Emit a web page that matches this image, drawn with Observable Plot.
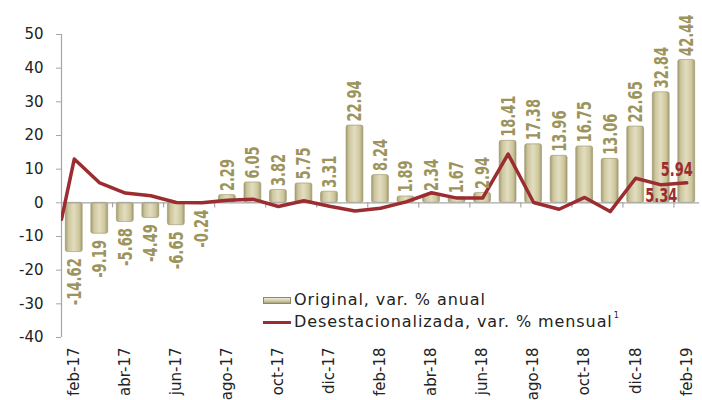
<!DOCTYPE html>
<html>
<head>
<meta charset="utf-8">
<script src="https://cdn.jsdelivr.net/npm/d3@7"></script>
<script src="https://cdn.jsdelivr.net/npm/@observablehq/plot@0.6"></script>
<style>
  html, body { margin: 0; padding: 0; background: #fff; }
  #wrap { position: relative; width: 702px; height: 400px; overflow: hidden; }
  #legend { position: absolute; left: 263px; top: 289px; font-family: "DejaVu Sans", sans-serif; font-size: 16px; letter-spacing: 0.9px; color: #222; line-height: 22px; }
  #legend .row { display: flex; align-items: center; white-space: nowrap; }
  #legend .sw { width: 28px; height: 7px; margin-right: 3px; box-sizing: border-box; }
  #legend .bar { background: linear-gradient(to bottom, #efeadb, #cfc8a0 60%, #a9a27c); border: 0.5px solid #8f8860; }
  #legend .ln { height: 3px; background: #9b2d30; }
  #legend sup { font-size: 8px; position: relative; top: -6px; vertical-align: baseline; margin-left: 1px; }
</style>
</head>
<body>
<div id="wrap">
  <div id="chart"></div>
  <div id="legend">
    <div class="row"><div class="sw bar"></div>Original, var. % anual</div>
    <div class="row"><div class="sw ln"></div>Desestacionalizada, var. % mensual<sup>1</sup></div>
  </div>
</div>
<script>
// Months (feb-17 .. feb-19)
const months = ["feb-17","mar-17","abr-17","may-17","jun-17","jul-17","ago-17","sep-17","oct-17","nov-17","dic-17","ene-18",
                "feb-18","mar-18","abr-18","may-18","jun-18","jul-18","ago-18","sep-18","oct-18","nov-18","dic-18","ene-19","feb-19"];
// Original, var. % anual (bars)
const original = [-14.62,-9.19,-5.68,-4.49,-6.65,-0.24,2.29,6.05,3.82,5.75,3.31,22.94,
                  8.24,1.89,2.34,1.67,2.94,18.41,17.38,13.96,16.75,13.06,22.65,32.84,42.44];
// Desestacionalizada, var. % mensual (line)
const lineStart = -4.9; // value where the line enters the plot at its left edge
const desest = [13.0,5.9,2.9,2.1,0.1,0.0,0.8,1.1,-1.1,0.6,-1.0,-2.4,
                -1.6,0.3,3.0,1.4,1.4,14.5,0.1,-1.9,1.6,-2.6,7.3,5.34,5.94];
// Labeled line points
const lineLabels = [{month: "ene-19", value: 5.34, pos: "below"}, {month: "feb-19", value: 5.94, pos: "above"}];
// Axis ticks
const yTicks = [-40,-30,-20,-10,0,10,20,30,40,50];
const xTickLabels = ["feb-17","abr-17","jun-17","ago-17","oct-17","dic-17","feb-18","abr-18","jun-18","ago-18","oct-18","dic-18","feb-19"];

const bars = months.map((m, i) => ({i, month: m, value: original[i]}));
const line = [{i: -0.5, value: lineStart}, ...months.map((m, i) => ({i, value: desest[i]}))];
const xLabelIdx = xTickLabels.map(l => months.indexOf(l));
const boundaries = d3.range(1.5, months.length - 1, 2);
const labelPts = lineLabels.map(d => ({i: months.indexOf(d.month), value: d.value, pos: d.pos}));

const numFont = "'Liberation Sans Narrow', 'DejaVu Sans Condensed', 'Arial Narrow', sans-serif";
const half = 0.33;
const olive = "#9c945c", red = "#9b2d30";

const chart = Plot.plot({
  width: 702,
  height: 400,
  marginLeft: 61,
  marginRight: 3,
  marginTop: 34,
  marginBottom: 63,
  style: {fontFamily: "'DejaVu Sans', sans-serif", fontSize: "15px", color: "#222", background: "#fff", overflow: "visible"},
  x: {type: "linear", domain: [-0.5, months.length - 0.5], axis: null},
  y: {domain: [-40, 50], axis: null},
  marks: [
    Plot.rectY(bars, {x1: d => d.i - half, x2: d => d.i + half, y: "value", fill: "url(#barGrad)", stroke: "#9a9368", strokeWidth: 0.6, rx: 2}),
    Plot.ruleY([0], {stroke: "#a6a6a6", strokeWidth: 1.2}),
    Plot.ruleX(boundaries, {x: d => d, y1: 0, y2: -1.5, stroke: "#a6a6a6", strokeWidth: 1.2}),
    Plot.axisY({ticks: yTicks, tickSize: 5, tickPadding: 13, tickFormat: d => String(d), label: null, stroke: "#a6a6a6", fontSize: 15, fill: "#222"}),
    Plot.ruleX([-0.5], {stroke: "#a6a6a6", strokeWidth: 1.2}),
    Plot.line(line, {x: "i", y: "value", stroke: red, strokeWidth: 3.5, strokeLinejoin: "round", clip: true}),
    Plot.text(bars.filter(d => d.value >= 0), {x: "i", y: "value", text: d => d.value.toFixed(2), rotate: -90, textAnchor: "start", lineAnchor: "middle", dy: -4, fill: olive, fontWeight: "bold", fontSize: 20, fontFamily: numFont}),
    Plot.text(bars.filter(d => d.value < 0), {x: "i", y: "value", text: d => d.value.toFixed(2), rotate: -90, textAnchor: "end", lineAnchor: "middle", dy: 6, fill: olive, fontWeight: "bold", fontSize: 20, fontFamily: numFont}),
    Plot.text(labelPts.filter(d => d.pos === "below"), {x: "i", y: "value", text: d => d.value.toFixed(2), lineAnchor: "top", dy: 4, fill: red, fontWeight: "bold", fontSize: 19, fontFamily: numFont}),
    Plot.text(labelPts.filter(d => d.pos === "above"), {x: "i", y: "value", text: d => d.value.toFixed(2), lineAnchor: "bottom", dy: -7, dx: -10, fill: red, fontWeight: "bold", fontSize: 19, fontFamily: numFont}),
    Plot.text(xLabelIdx, {x: d => d, frameAnchor: "bottom", text: d => months[d], rotate: -90, textAnchor: "end", lineAnchor: "middle", dy: 10, fontSize: 15, fill: "#222"})
  ]
});

const svg = d3.select(chart);
const defs = svg.insert("defs", ":first-child");
const g = defs.append("linearGradient").attr("id", "barGrad").attr("x1", "0").attr("x2", "1").attr("y1", "0").attr("y2", "0");
[["0%", "#a39c74"], ["18%", "#cdc69c"], ["50%", "#e2ddc0"], ["82%", "#cdc69c"], ["100%", "#a39c74"]]
  .forEach(([o, c]) => g.append("stop").attr("offset", o).attr("stop-color", c));
// Condense the numeric labels to match the narrow font of the reference
svg.selectAll(`g[fill="${olive}"] text, g[fill="${red}"] text`).each(function() {
  const t = this.textContent;
  const digits = (t.match(/\d/g) || []).length;
  const len = digits * 9.2 + (t.includes(".") ? 4.5 : 0) + (t.startsWith("-") ? 6 : 0);
  this.setAttribute("textLength", len);
  this.setAttribute("lengthAdjust", "spacingAndGlyphs");
});
document.getElementById("chart").appendChild(chart);
</script>
</body>
</html>
